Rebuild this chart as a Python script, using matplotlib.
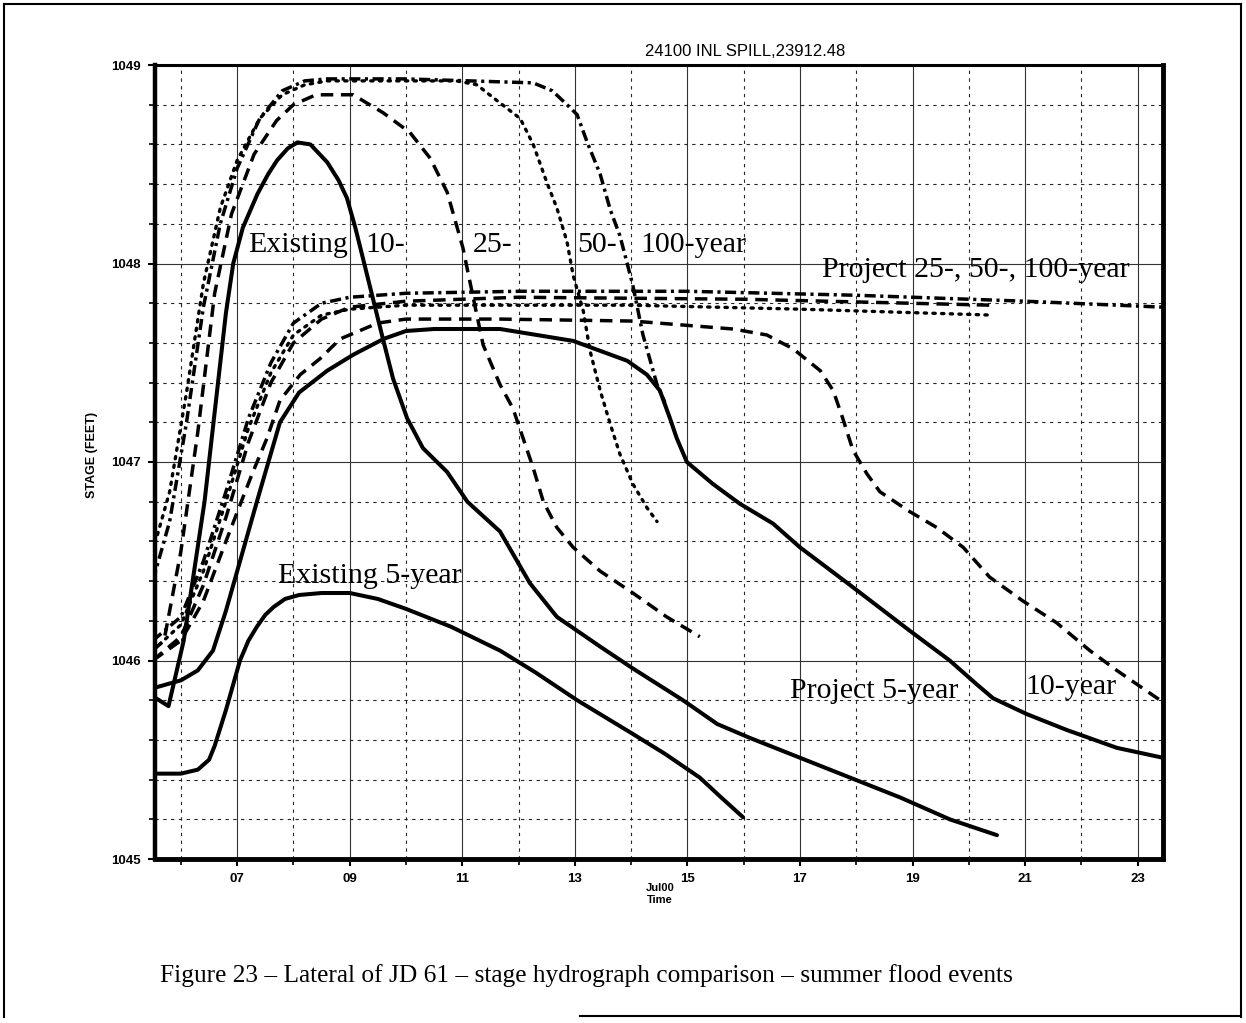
import matplotlib
matplotlib.use('Agg')
import matplotlib.pyplot as plt
from matplotlib.lines import Line2D
from matplotlib.ticker import FixedLocator, MultipleLocator

# ---------------- data (day of July 2000, stage in feet) ----------------
ex5_day = [5.5, 6.0, 6.3, 6.5, 6.6, 6.8, 7.05, 7.2, 7.35, 7.5, 7.65, 7.85, 8.1, 8.5, 9.0, 9.5,
           10.0, 10.8, 11.67, 12.3, 13.04, 14.03, 14.6, 15.22, 15.6, 15.99]
ex5_stage = [1045.43, 1045.43, 1045.45, 1045.5, 1045.57, 1045.75, 1046.0, 1046.1, 1046.17,
             1046.23, 1046.27, 1046.31, 1046.33, 1046.34, 1046.34, 1046.31, 1046.26, 1046.17,
             1046.05, 1045.94, 1045.8, 1045.63, 1045.53, 1045.41, 1045.31, 1045.21]

ex10_day = [5.5, 5.78, 6.05, 6.42, 6.8, 6.93, 7.1, 7.36, 7.55, 7.71, 7.9, 8.07, 8.3, 8.6, 8.8,
            8.95, 9.1, 9.31, 9.59, 9.77, 10.02, 10.3, 10.73, 11.09, 11.67, 12.2, 12.68, 13.45,
            14.03, 14.92, 15.53, 16.11, 17.0, 17.89, 18.78, 19.66, 20.5]
ex10_stage = [1045.82, 1045.77, 1046.1, 1046.8, 1047.75, 1048.0, 1048.18, 1048.35, 1048.45,
              1048.52, 1048.58, 1048.61, 1048.6, 1048.51, 1048.42, 1048.33, 1048.18, 1047.94,
              1047.62, 1047.42, 1047.22, 1047.07, 1046.95, 1046.8, 1046.65, 1046.39, 1046.22,
              1046.07, 1045.96, 1045.8, 1045.68, 1045.61, 1045.51, 1045.41, 1045.31, 1045.2,
              1045.12]

ex25_day = [5.5, 5.7, 6.0, 6.3, 6.6, 6.9, 7.3, 7.7, 8.0, 8.4, 9.06, 9.59, 10.07, 10.43, 10.73,
            11.01, 11.09, 11.37, 11.67, 11.9, 12.08, 12.26, 12.44, 12.68, 12.97, 13.45, 14.03,
            14.63, 15.22]
ex25_stage = [1046.05, 1046.1, 1046.55, 1047.15, 1047.85, 1048.25, 1048.55, 1048.72, 1048.8,
              1048.85, 1048.85, 1048.76, 1048.66, 1048.53, 1048.36, 1048.08, 1047.97, 1047.59,
              1047.39, 1047.27, 1047.12, 1046.97, 1046.8, 1046.67, 1046.57, 1046.45, 1046.34,
              1046.22, 1046.12]

ex50_day = [5.5, 5.8, 6.1, 6.4, 6.7, 7.0, 7.4, 7.8, 8.2, 8.6, 10.0, 10.9, 11.26, 11.62, 12.03,
            12.26, 12.5, 12.68, 12.86, 12.97, 13.15, 13.27, 13.45, 13.63, 13.8, 14.03, 14.28,
            14.46]
ex50_stage = [1046.55, 1046.85, 1047.35, 1047.9, 1048.28, 1048.52, 1048.73, 1048.85, 1048.9,
              1048.92, 1048.92, 1048.92, 1048.9, 1048.82, 1048.73, 1048.6, 1048.41, 1048.28,
              1048.11, 1047.94, 1047.76, 1047.56, 1047.36, 1047.19, 1047.04, 1046.89, 1046.77,
              1046.7]

ex100_day = [5.5, 5.8, 6.1, 6.4, 6.7, 7.0, 7.4, 7.8, 8.2, 8.6, 10.0, 12.26, 12.6, 12.86, 13.04,
             13.22, 13.45, 13.63, 13.8, 13.93, 14.03, 14.21, 14.46, 14.6]
ex100_stage = [1046.4, 1046.7, 1047.2, 1047.78, 1048.2, 1048.48, 1048.73, 1048.87, 1048.92,
               1048.93, 1048.93, 1048.91, 1048.87, 1048.8, 1048.75, 1048.61, 1048.45, 1048.27,
               1048.14, 1048.0, 1047.89, 1047.64, 1047.39, 1047.3]

pr5_day = [5.5, 6.0, 6.3, 6.57, 6.8, 7.05, 7.35, 7.76, 8.1, 8.6, 9.06, 9.6, 10.0, 10.5, 11.67,
           12.97, 13.45, 13.93, 14.28, 14.51, 14.69, 14.81, 14.99, 15.45, 15.93, 16.52, 17.0,
           17.89, 18.95, 19.66, 20.14, 20.43, 21.03, 21.74, 22.63, 23.45]
pr5_stage = [1045.86, 1045.9, 1045.95, 1046.05, 1046.25, 1046.5, 1046.8, 1047.2, 1047.35,
             1047.46, 1047.54, 1047.62, 1047.66, 1047.67, 1047.67, 1047.61, 1047.56, 1047.51,
             1047.44, 1047.36, 1047.22, 1047.12, 1047.0, 1046.89, 1046.79, 1046.69, 1046.57,
             1046.38, 1046.15, 1046.0, 1045.88, 1045.81, 1045.73, 1045.65, 1045.56, 1045.51]

pr10_day = [5.5, 6.0, 6.4, 6.8, 7.1, 7.28, 7.53, 7.76, 8.12, 8.47, 8.83, 9.5, 10.0, 11.67,
            14.03, 15.81, 16.41, 16.88, 17.36, 17.59, 17.76, 17.94, 18.19, 18.42, 18.95, 19.43,
            19.9, 20.37, 20.96, 21.56, 22.15, 22.63, 23.09, 23.45]
pr10_stage = [1046.0, 1046.1, 1046.3, 1046.6, 1046.82, 1046.95, 1047.12, 1047.31, 1047.44,
              1047.52, 1047.62, 1047.7, 1047.72, 1047.72, 1047.71, 1047.67, 1047.64, 1047.57,
              1047.46, 1047.36, 1047.22, 1047.06, 1046.94, 1046.85, 1046.75, 1046.67, 1046.57,
              1046.42, 1046.3, 1046.19, 1046.05, 1045.95, 1045.86, 1045.79]

pr25_day = [5.5, 6.0, 6.4, 6.8, 7.2, 7.6, 8.0, 8.5, 9.0, 10.0, 12.0, 16.0, 20.4]
pr25_stage = [1046.0, 1046.12, 1046.38, 1046.72, 1047.1, 1047.4, 1047.6, 1047.72, 1047.78,
              1047.81, 1047.83, 1047.82, 1047.79]

pr50_day = [5.5, 6.0, 6.4, 6.8, 7.2, 7.6, 8.0, 8.5, 9.0, 10.0, 14.0, 17.0, 20.41]
pr50_stage = [1046.05, 1046.18, 1046.45, 1046.8, 1047.17, 1047.45, 1047.64, 1047.74, 1047.77,
              1047.79, 1047.79, 1047.77, 1047.74]

pr100_day = [5.5, 6.0, 6.4, 6.8, 7.2, 7.6, 8.0, 8.5, 9.0, 10.0, 12.0, 15.0, 18.0, 21.0, 23.45]
pr100_stage = [1046.1, 1046.22, 1046.5, 1046.85, 1047.22, 1047.5, 1047.7, 1047.8, 1047.83,
               1047.85, 1047.86, 1047.86, 1047.84, 1047.81, 1047.78]

xtick_days = [7, 9, 11, 13, 15, 17, 19, 21, 23]
xtick_labels = ['07', '09', '11', '13', '15', '17', '19', '21', '23']
ytick_vals = [1045, 1046, 1047, 1048, 1049]

# ---------------- figure ----------------
W, H = 1246, 1023
fig = plt.figure(figsize=(W / 100, H / 100), dpi=100)
fig.patch.set_facecolor('white')
ax = fig.add_axes([155 / W, 1 - 859 / H, (1163 - 155) / W, (859 - 65) / H])

SOLID = dict(color='black', lw=2.9, ls='-', solid_capstyle='round', solid_joinstyle='round')
DASH = dict(color='black', lw=2.5, ls=(0, (3.6, 2.2)))
DOT = dict(color='black', lw=2.4, ls=(0, (0.7, 1.9)), dash_capstyle='round')
DASHDOT = dict(color='black', lw=2.5, ls=(0, (3.2, 1.3, 0.9, 1.3)))

ax.plot(ex5_day, ex5_stage, **SOLID)
ax.plot(ex10_day, ex10_stage, **SOLID)
ax.plot(ex25_day, ex25_stage, **DASH)
ax.plot(ex50_day, ex50_stage, **DOT)
ax.plot(ex100_day, ex100_stage, **DASHDOT)
ax.plot(pr5_day, pr5_stage, **SOLID)
ax.plot(pr10_day, pr10_stage, **DASH)
ax.plot(pr25_day, pr25_stage, **DASH)
ax.plot(pr50_day, pr50_stage, **DOT)
ax.plot(pr100_day, pr100_stage, **DASHDOT)

ax.set_xlim(5.54, 23.45)
ax.set_ylim(1045, 1049)

ax.xaxis.set_major_locator(FixedLocator(xtick_days))
ax.xaxis.set_minor_locator(FixedLocator([d + 1 for d in [5] + xtick_days[:-1]]))
ax.set_xticklabels(xtick_labels)
ax.yaxis.set_major_locator(FixedLocator(ytick_vals))
ax.yaxis.set_minor_locator(MultipleLocator(0.2))
ax.set_yticklabels([str(v) for v in ytick_vals])

ax.set_axisbelow(True)
ax.grid(which='major', color='0.2', lw=0.8, ls='-')
ax.grid(which='minor', color='0.15', lw=0.8, ls=(0, (3, 4)))

for lab in ax.get_xticklabels() + ax.get_yticklabels():
    lab.set_fontfamily('Liberation Sans')
    lab.set_fontweight('bold')
    lab.set_fontsize(9.5)
ax.tick_params(axis='both', which='major', direction='out', length=5, width=1.5, pad=5,
               colors='black')
ax.tick_params(axis='both', which='minor', direction='out', length=4, width=1.2)

ax.spines['left'].set_linewidth(3.2)
ax.spines['bottom'].set_linewidth(3.5)
ax.spines['right'].set_linewidth(3.5)
ax.spines['top'].set_linewidth(2.2)

# curve labels
lab_kw = dict(family='Liberation Serif', fontsize=21.5, color='black', va='baseline', ha='left')
ax.text(7.2, 1048.06, 'Existing', **lab_kw)
ax.text(9.28, 1048.06, '10-', **lab_kw)
ax.text(11.19, 1048.06, '25-', **lab_kw)
ax.text(13.04, 1048.06, '50-', **lab_kw)
ax.text(14.16, 1048.06, '100-year', **lab_kw)
ax.text(17.39, 1047.93, 'Project 25-, 50-, 100-year', **lab_kw)
ax.text(7.73, 1046.39, 'Existing 5-year', **lab_kw)
ax.text(16.82, 1045.81, 'Project 5-year', **lab_kw)
ax.text(21.0, 1045.83, '10-year', **lab_kw)

# titles and axis labels
fig.text(745 / W, 1 - 52 / H, '24100 INL SPILL,23912.48', family='Liberation Sans',
         fontsize=12, ha='center', va='center')
fig.text(92 / W, 1 - 455 / H, 'STAGE (FEET)', family='Liberation Sans', fontweight='bold',
         fontsize=9, rotation=90, ha='center', va='center')
fig.text(660 / W, 1 - 888 / H, 'Jul00', family='Liberation Sans', fontweight='bold',
         fontsize=8, ha='center', va='center')
fig.text(660 / W, 1 - 900 / H, 'Time', family='Liberation Sans', fontweight='bold',
         fontsize=8, ha='center', va='center')
fig.text(160 / W, 1 - 982 / H,
         'Figure 23 \u2013 Lateral of JD 61 \u2013 stage hydrograph comparison \u2013 summer flood events',
         family='Liberation Serif', fontsize=18.3, ha='left', va='baseline')

# page frame
def fline(x0, y0, x1, y1, lw=1.5):
    fig.add_artist(Line2D([x0 / W, x1 / W], [1 - y0 / H, 1 - y1 / H],
                          transform=fig.transFigure, color='black', lw=lw))

fline(4, 4, 1241, 4)
fline(4, 4, 4, 1017)
fline(1241, 4, 1241, 1017)
fline(580, 1016, 1241, 1016)

fig.savefig('out.png', dpi=100, facecolor='white')
